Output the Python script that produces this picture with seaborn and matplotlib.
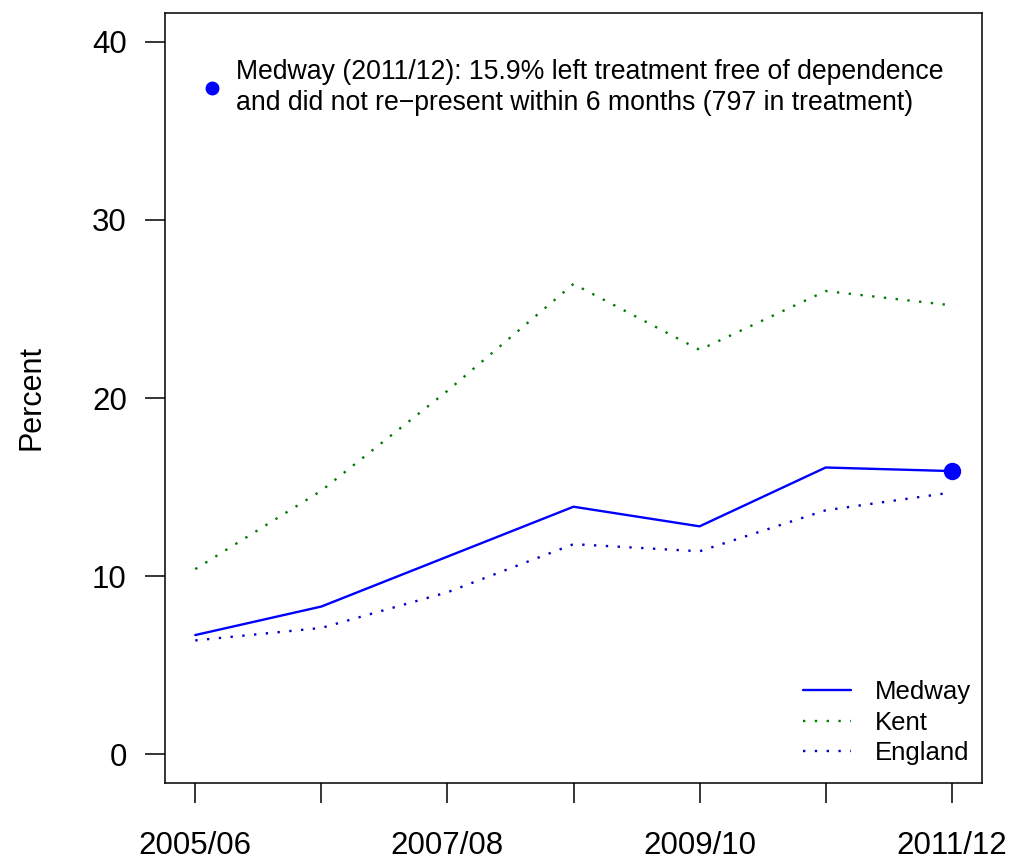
import numpy as np
import pandas as pd
import matplotlib
matplotlib.use("Agg")
import matplotlib.pyplot as plt
import seaborn as sns

years = ["2005/06", "2006/07", "2007/08", "2008/09", "2009/10", "2010/11", "2011/12"]
medway = [6.7, 8.3, 11.1, 13.9, 12.8, 16.1, 15.9]
kent = [10.4, 14.8, 20.4, 26.4, 22.7, 26.0, 25.2]
england = [6.4, 7.1, 9.1, 11.8, 11.4, 13.7, 14.7]
shown_labels = ["2005/06", "", "2007/08", "", "2009/10", "", "2011/12"]
y_ticks = [0, 10, 20, 30, 40]
note = ("Medway (2011/12): 15.9% left treatment free of dependence\n"
        "and did not re\u2212present within 6 months (797 in treatment)")

sns.set_style("ticks")
plt.rcParams['font.family'] = ['Liberation Sans', 'DejaVu Sans']
plt.rcParams['text.color'] = 'black'
plt.rcParams['xtick.color'] = 'black'
plt.rcParams['ytick.color'] = 'black'
plt.rcParams['axes.labelcolor'] = 'black'

df = pd.DataFrame({"idx": range(len(years)), "Medway": medway,
                   "Kent": kent, "England": england})

fig = plt.figure(figsize=(10.15, 8.59), dpi=100)
ax = fig.add_axes([165 / 1015, 1 - 783 / 859, 817 / 1015, 770 / 859])

dot = (0, (1, 4))
sns.lineplot(data=df, x="idx", y="Medway", color="blue", linewidth=1.7,
             label="Medway", ax=ax)
sns.lineplot(data=df, x="idx", y="Kent", color="#007a00", linewidth=1.7,
             linestyle=dot, label="Kent", ax=ax)
sns.lineplot(data=df, x="idx", y="England", color="#0000c8", linewidth=1.7,
             linestyle=dot, label="England", ax=ax)

# highlight last Medway value
ax.plot(df["idx"].iloc[-1], medway[-1], "o", color="blue", markersize=11.5)

ax.set_xlim(-0.24, len(years) - 1 + 0.24)
ax.set_ylim(-1.6, 41.6)
ax.set_xticks(range(len(years)))
ax.set_xticklabels(shown_labels, fontsize=22.5)
ax.set_yticks(y_ticks)
ax.set_yticklabels([str(v) for v in y_ticks], fontsize=22.5)
ax.tick_params(axis="both", direction="out", length=14.5, width=1.1,
               color="black", bottom=True, left=True)
ax.tick_params(axis="x", pad=20)
ax.tick_params(axis="y", pad=13)
ax.set_xlabel("")
ax.set_ylabel("")
for s in ax.spines.values():
    s.set_visible(True)
    s.set_color("black")
    s.set_linewidth(1.1)

fig.text(31 / 1015, 1 - 398 / 859, "Percent", rotation=90, ha="center",
         va="center", fontsize=22)

# annotation
ax.plot([0.058], [0.903], "o", color="blue", markersize=9, transform=ax.transAxes)
ax.text(0.087, 0.903, note, transform=ax.transAxes, ha="left", va="center",
        fontsize=19.2, linespacing=1.22)

leg = ax.legend(loc="lower right", bbox_to_anchor=(1.009, 0.0), frameon=False,
                fontsize=18.5, handlelength=1.85, handletextpad=0.95,
                labelspacing=0.25, borderaxespad=0.3)

fig.savefig("out.png", dpi=100)
